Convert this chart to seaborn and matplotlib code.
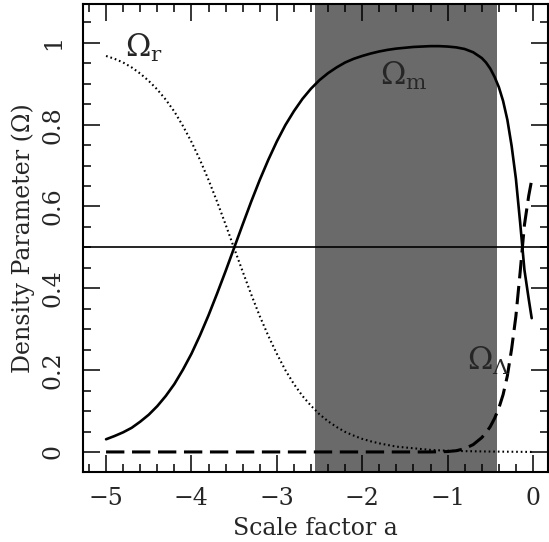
import numpy as np
import pandas as pd
import matplotlib
matplotlib.use('Agg')
import matplotlib.pyplot as plt
import seaborn as sns
from matplotlib.ticker import MultipleLocator

# values (x = log scale factor)
omega_m_x = [-5.0, -4.9, -4.8, -4.7, -4.6, -4.5, -4.4, -4.3, -4.2, -4.1, -4.0, -3.9, -3.8,
             -3.7, -3.6, -3.5, -3.4, -3.3, -3.2, -3.1, -3.0, -2.9, -2.8, -2.7, -2.6, -2.5,
             -2.4, -2.3, -2.2, -2.1, -2.0, -1.9, -1.8, -1.7, -1.6, -1.5, -1.4, -1.3, -1.2,
             -1.1, -1.0, -0.9, -0.8, -0.7, -0.6, -0.55, -0.5, -0.45, -0.4, -0.35, -0.3,
             -0.25, -0.2, -0.15, -0.1, -0.05, -0.015]
omega_m_y = [0.031, 0.039, 0.048, 0.059, 0.074, 0.091, 0.112, 0.137, 0.166, 0.201, 0.240,
             0.285, 0.334, 0.387, 0.442, 0.499, 0.556, 0.612, 0.665, 0.714, 0.759, 0.799,
             0.833, 0.863, 0.888, 0.909, 0.926, 0.940, 0.952, 0.961, 0.968, 0.974, 0.979,
             0.983, 0.986, 0.988, 0.990, 0.991, 0.992, 0.992, 0.991, 0.989, 0.985, 0.977,
             0.963, 0.952, 0.937, 0.917, 0.892, 0.858, 0.812, 0.748, 0.668, 0.56, 0.445,
             0.374, 0.327]

omega_l_x = [-5.0, -1.2, -1.0, -0.9, -0.8, -0.7, -0.6, -0.55, -0.5, -0.45, -0.4, -0.35,
             -0.3, -0.25, -0.2, -0.15, -0.1, -0.05, -0.015]
omega_l_y = [0.0, 0.0, 0.001, 0.003, 0.008, 0.018, 0.035, 0.047, 0.062, 0.082, 0.107,
             0.14, 0.186, 0.252, 0.332, 0.44, 0.555, 0.626, 0.665]

omega_r_x = [-5.0, -4.9, -4.8, -4.7, -4.6, -4.5, -4.4, -4.3, -4.2, -4.1, -4.0, -3.9, -3.8,
             -3.7, -3.6, -3.5, -3.4, -3.3, -3.2, -3.1, -3.0, -2.9, -2.8, -2.7, -2.6, -2.5,
             -2.4, -2.3, -2.2, -2.1, -2.0, -1.9, -1.8, -1.7, -1.6, -1.5, -1.4, -1.3, -1.2,
             -1.0, -0.8, -0.5, 0.0]
omega_r_y = [0.968, 0.961, 0.952, 0.940, 0.925, 0.907, 0.886, 0.861, 0.832, 0.797, 0.758,
             0.714, 0.665, 0.612, 0.556, 0.498, 0.441, 0.385, 0.332, 0.284, 0.240, 0.200,
             0.166, 0.137, 0.113, 0.092, 0.075, 0.061, 0.049, 0.040, 0.032, 0.026, 0.021,
             0.017, 0.013, 0.011, 0.009, 0.007, 0.005, 0.003, 0.002, 0.001, 0.0]

shade_lo, shade_hi = -2.55, -0.42
half_line = 0.5

sns.set_style('ticks')
plt.rcParams['font.family'] = ['DejaVu Serif']
plt.rcParams['mathtext.fontset'] = 'dejavuserif'

fig = plt.figure(figsize=(5.49, 5.42), dpi=100)
ax = fig.add_axes([83/549, 1 - 472/542, 465/549, 468/542])

ax.axvspan(shade_lo, shade_hi, color='#6a6a6a', lw=0, zorder=0)
ax.axhline(half_line, color='k', lw=1.2, zorder=1)

sns.lineplot(x=omega_m_x, y=omega_m_y, ax=ax, color='k', lw=1.9, sort=False, zorder=3)
sns.lineplot(x=omega_l_x, y=omega_l_y, ax=ax, color='k', lw=2.2, sort=False,
             linestyle=(0, (6, 2.5)), zorder=3)
sns.lineplot(x=omega_r_x, y=omega_r_y, ax=ax, color='k', lw=1.5, sort=False,
             linestyle=(0, (0.8, 1.4)), zorder=3)

ax.text(-4.78, 0.966, r'$\Omega_{\rm r}$', fontsize=22, ha='left', va='baseline')
ax.text(-1.79, 0.897, r'$\Omega_{\rm m}$', fontsize=22, ha='left', va='baseline')
ax.text(-0.77, 0.20, r'$\Omega_{\Lambda}$', fontsize=22, ha='left', va='baseline')

ax.set_xlim(-5.27, 0.176)
ax.set_ylim(-0.049, 1.095)
ax.xaxis.set_minor_locator(MultipleLocator(0.2))
ax.yaxis.set_minor_locator(MultipleLocator(0.05))
ax.set_xticks([-5, -4, -3, -2, -1, 0])
ax.set_xticklabels(['\u22125', '\u22124', '\u22123', '\u22122', '\u22121', '0'])
ax.set_yticks([0, 0.2, 0.4, 0.6, 0.8, 1.0])
ax.set_yticklabels(['0', '0.2', '0.4', '0.6', '0.8', '1'])

ax.tick_params(which='both', direction='in', top=True, right=True, color='k', width=1.1)
ax.tick_params(which='major', length=12)
ax.tick_params(which='minor', length=6)
ax.tick_params(axis='x', labelsize=17, pad=11)
ax.tick_params(axis='y', labelsize=17, pad=13)
for lab in ax.get_yticklabels():
    lab.set_rotation(90)
    lab.set_va('center')

for sp in ax.spines.values():
    sp.set_linewidth(1.5)
    sp.set_color('k')

ax.set_xlabel('Scale factor a', fontsize=17, labelpad=5)
ax.set_ylabel('Density Parameter (\u03a9)', fontsize=17, labelpad=5)

fig.savefig('out.png', dpi=100)
